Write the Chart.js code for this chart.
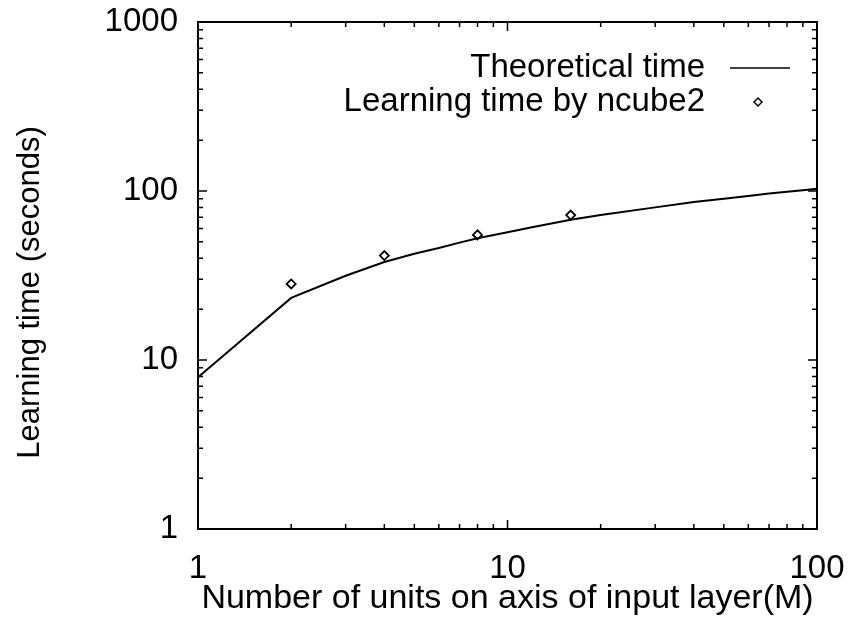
<!DOCTYPE html>
<html>
<head>
<meta charset="utf-8">
<script src="https://cdn.jsdelivr.net/npm/chart.js@4.4.1/dist/chart.umd.min.js"></script>
<style>
  html, body { margin: 0; padding: 0; background: #fff; }
  #wrap { width: 849px; height: 621px; }
</style>
</head>
<body>
<div id="wrap"><canvas id="learnChart" width="849" height="621"></canvas></div>
<script>
// Theoretical curve
const theoryM    = [1, 2, 3, 4, 5, 6, 7, 8, 10, 12, 16, 20, 30, 40, 50, 60, 70, 80, 90, 100];
const theoryTime = [7.9, 23.3, 31.5, 38, 42.5, 46, 49.5, 52.5, 57, 61, 67.5, 72, 80, 86, 90, 93.5, 96.5, 99, 101, 103];

// Measured on ncube2
const ncubeM    = [2, 4, 8, 16];
const ncubeTime = [28.2, 41.5, 55, 72];

const xTicks = [1, 10, 100];
const yTicks = [1, 10, 100, 1000];

const yTitle = 'Learning time (seconds)';

const FONT = '"Liberation Sans", Arial, Helvetica, sans-serif';

// frame + gnuplot-like inward tick marks on all four sides
const framePlugin = {
    id: 'frame',
    beforeDatasetsDraw(chart) {
        const { ctx, chartArea: a, scales } = chart;
        ctx.save();
        ctx.strokeStyle = '#000';
        ctx.lineWidth = 2;
        ctx.strokeRect(a.left, a.top, a.right - a.left, a.bottom - a.top);

        ctx.lineWidth = 1.5;
        const tickSet = (ticks) => {
            const out = [];
            for (let i = 0; i < ticks.length - 1; i++) {
                out.push([ticks[i], 9]);
                for (let k = 2; k <= 9; k++) out.push([ticks[i] * k, 5]);
            }
            out.push([ticks[ticks.length - 1], 9]);
            return out;
        };
        ctx.beginPath();
        tickSet(xTicks).forEach(([v, len]) => {
            const px = scales.x.getPixelForValue(v);
            ctx.moveTo(px, a.bottom); ctx.lineTo(px, a.bottom - len);
            ctx.moveTo(px, a.top); ctx.lineTo(px, a.top + len);
        });
        tickSet(yTicks).forEach(([v, len]) => {
            const py = scales.y.getPixelForValue(v);
            ctx.moveTo(a.left, py); ctx.lineTo(a.left + len, py);
            ctx.moveTo(a.right, py); ctx.lineTo(a.right - len, py);
        });
        ctx.stroke();
        ctx.restore();
    },
    afterDraw(chart) {
        const { ctx, chartArea: a } = chart;
        ctx.save();

        // y axis title, sits a bit below the plot's middle like the original
        ctx.save();
        ctx.translate(30, (a.top + a.bottom) / 2 + 17);
        ctx.rotate(-Math.PI / 2);
        ctx.font = '31px ' + FONT;
        ctx.fillStyle = '#000';
        ctx.textAlign = 'center';
        ctx.textBaseline = 'middle';
        ctx.fillText(yTitle, 0, 0);
        ctx.restore();

        // legend drawn inside the plot, top right
        ctx.font = '33px ' + FONT;
        ctx.textAlign = 'right';
        ctx.textBaseline = 'middle';
        chart.data.datasets.forEach((ds, i) => {
            const y = a.top + 46 + i * 34;
            const textEnd = a.right - 112;
            ctx.fillStyle = '#000';
            ctx.fillText(ds.label, textEnd, y);
            ctx.lineWidth = 1.5;
            ctx.strokeStyle = '#000';
            if (ds.showLine) {
                ctx.beginPath();
                ctx.moveTo(textEnd + 25, y);
                ctx.lineTo(textEnd + 85, y);
                ctx.stroke();
            } else {
                ctx.fillStyle = '#fff';
                Chart.helpers.drawPoint(ctx, {
                    pointStyle: 'rectRot', radius: 4, borderWidth: 1.5
                }, textEnd + 53, y);
            }
        });
        ctx.restore();
    }
};

new Chart(document.getElementById('learnChart'), {
    type: 'scatter',
    data: {
        datasets: [{
            label: 'Theoretical time',
            data: theoryM.map((m, i) => ({ x: m, y: theoryTime[i] })),
            showLine: true,
            borderColor: '#000',
            borderWidth: 2,
            pointRadius: 0,
            tension: 0
        }, {
            label: 'Learning time by ncube2',
            data: ncubeM.map((m, i) => ({ x: m, y: ncubeTime[i] })),
            showLine: false,
            pointStyle: 'rectRot',
            pointRadius: 4.5,
            pointBorderWidth: 1.8,
            pointBorderColor: '#000',
            pointBackgroundColor: '#fff'
        }]
    },
    options: {
        responsive: false,
        animation: false,
        layout: { padding: 0 },
        plugins: { legend: { display: false }, tooltip: { enabled: false } },
        scales: {
            x: {
                type: 'logarithmic',
                min: 1, max: 100,
                afterBuildTicks: s => { s.ticks = xTicks.map(v => ({ value: v })); },
                afterFit: s => { s.height = 92; s.paddingLeft = 0; s.paddingRight = 32; },
                grid: { display: false, drawTicks: false },
                border: { display: false },
                ticks: {
                    color: '#000', padding: 20, maxRotation: 0,
                    font: { family: FONT, size: 33 },
                    callback: v => String(v)
                },
                title: {
                    display: true, text: 'Number of units on axis of input layer(M)',
                    color: '#000', font: { family: FONT, size: 34 }, padding: { top: 0, bottom: 2 }
                }
            },
            y: {
                type: 'logarithmic',
                min: 1, max: 1000,
                afterBuildTicks: s => { s.ticks = yTicks.map(v => ({ value: v })); },
                afterFit: s => { s.width = 198; s.paddingTop = 22; s.paddingBottom = 0; },
                grid: { display: false, drawTicks: false },
                border: { display: false },
                ticks: {
                    color: '#000', padding: 20,
                    font: { family: FONT, size: 33 },
                    callback: v => String(v)
                },
                title: { display: false }
            }
        }
    },
    plugins: [framePlugin]
});
</script>
</body>
</html>
